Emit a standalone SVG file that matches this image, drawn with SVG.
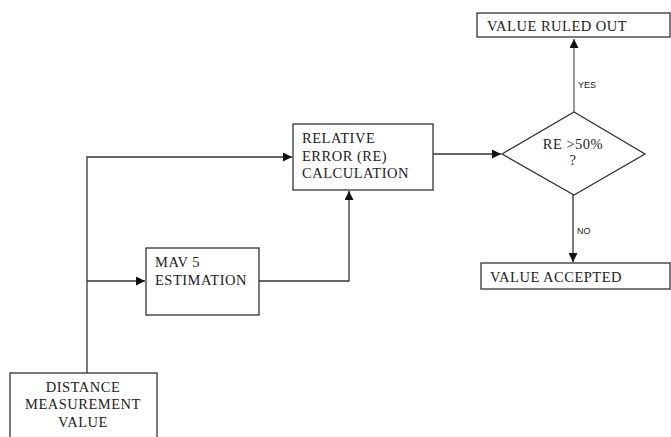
<svg xmlns="http://www.w3.org/2000/svg" width="671" height="437" viewBox="0 0 671 437">
<style>
.box{fill:#fff;stroke:#333;stroke-width:1.3}
.t{font-family:"Liberation Serif","Times New Roman",serif;font-size:14.5px;letter-spacing:0.5px;fill:#222}
.s{font-family:"Liberation Sans",Arial,sans-serif;font-size:9px;fill:#222}
.ln{fill:none;stroke:#333;stroke-width:1.3}
.gl{fill:none;stroke:#777;stroke-width:1.5}
</style>
<defs>
<marker id="ah" viewBox="0 0 10 10" refX="10" refY="5" markerWidth="9" markerHeight="9" markerUnits="userSpaceOnUse" orient="auto"><path d="M0,0L10,5L0,10z" fill="#111"/></marker>
</defs>
<rect width="671" height="437" fill="#fff"/>
<g id="connectors">
<path class="ln" d="M87,373V157H292" marker-end="url(#ah)"/>
<path class="ln" d="M87,281H145" marker-end="url(#ah)"/>
<path class="ln" d="M259,281H349V191" marker-end="url(#ah)"/>
<path class="ln" d="M433,154H501" marker-end="url(#ah)"/>
<path class="gl" d="M574,112V39" marker-end="url(#ah)"/>
<path class="ln" d="M573,195V262" marker-end="url(#ah)"/>
<text class="s" x="578" y="88">YES</text>
<text class="s" x="577" y="234">NO</text>
</g>
<g id="distance">
<rect class="box" x="10" y="373" width="147" height="70"/>
<text class="t" x="83" y="392" text-anchor="middle">DISTANCE</text>
<text class="t" x="83" y="409" text-anchor="middle">MEASUREMENT</text>
<text class="t" x="83" y="427" text-anchor="middle">VALUE</text>
</g>
<g id="mav">
<rect class="box" x="146" y="248" width="113" height="67"/>
<text class="t" x="155" y="267">MAV 5</text>
<text class="t" x="155" y="285">ESTIMATION</text>
</g>
<g id="re">
<rect class="box" x="293" y="124" width="140" height="66"/>
<text class="t" x="302" y="143">RELATIVE</text>
<text class="t" x="302" y="161">ERROR (RE)</text>
<text class="t" x="302" y="178">CALCULATION</text>
</g>
<g id="decision">
<polygon class="box" points="502,154 574,112 645,154 574,195"/>
<text class="t" x="573" y="149" text-anchor="middle">RE &gt;50%</text>
<text class="t" x="573" y="165" text-anchor="middle">?</text>
</g>
<g id="ruled-out">
<rect class="box" x="477" y="13" width="193" height="24"/>
<text class="t" x="487" y="31">VALUE RULED OUT</text>
</g>
<g id="accepted">
<rect class="box" x="481" y="263" width="189" height="26"/>
<text class="t" x="490" y="282">VALUE ACCEPTED</text>
</g>
</svg>
